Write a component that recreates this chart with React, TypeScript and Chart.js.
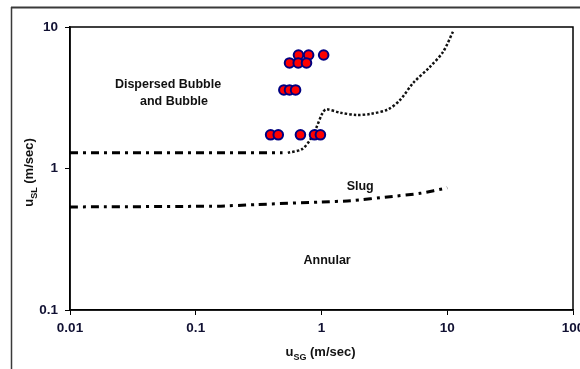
import React, { useEffect, useRef } from 'react';
import { Chart, registerables } from 'chart.js';

Chart.register(...registerables);

// Axis ticks
const xTicks = [0.01, 0.1, 1, 10, 100];
const yTicks = [0.1, 1, 10];

// Observed flow points (u_SG, u_SL)
const pointsX = [0.656, 0.79, 1.04, 0.557, 0.653, 0.76, 0.502, 0.557, 0.622, 0.394, 0.453, 0.68, 0.88, 0.98];
const pointsY = [6.34, 6.34, 6.34, 5.57, 5.57, 5.57, 3.59, 3.59, 3.59, 1.73, 1.73, 1.73, 1.73, 1.73];

// Bubble / slug boundary (dash-dot part)
const upperX = [0.01, 0.49];
const upperY = [1.29, 1.29];

// Transition boundary (dotted)
const transX = [0.54, 0.70, 0.81, 0.906, 1.02, 1.09, 1.41, 1.91, 2.44, 3.39, 4.22, 5.35, 7.31, 9.27, 11.1];
const transY = [1.29, 1.37, 1.59, 1.93, 2.47, 2.62, 2.48, 2.39, 2.43, 2.62, 3.05, 4.02, 5.24, 6.68, 9.26];

// Slug / annular boundary (dash-dot)
const lowerX = [0.01, 0.15, 0.3, 1, 1.7, 3.5, 6.1, 10];
const lowerY = [0.535, 0.542, 0.556, 0.58, 0.592, 0.632, 0.668, 0.73];

// Region labels
const regionText = ['Dispersed Bubble', 'and Bubble', 'Slug', 'Annular'];
const regionX = [0.0602, 0.0671, 2.03, 1.108];
const regionY = [3.89, 2.95, 0.74, 0.222];

const FONT = '"Liberation Sans", Arial, sans-serif';

const toXY = (xs: number[], ys: number[]) => xs.map((x, i) => ({ x, y: ys[i] }));

const decorPlugin = {
  id: 'decor',
  afterDraw(chart: any) {
    const { ctx, chartArea, scales } = chart;
    ctx.save();
    // outer frame
    ctx.strokeStyle = '#3a3a3a';
    ctx.lineWidth = 2;
    ctx.beginPath();
    ctx.moveTo(11, 7.5);
    ctx.lineTo(600, 7.5);
    ctx.stroke();
    ctx.lineWidth = 1.5;
    ctx.beginPath();
    ctx.moveTo(11.5, 7);
    ctx.lineTo(11.5, 369);
    ctx.stroke();
    // plot box
    ctx.strokeStyle = '#000';
    ctx.lineWidth = 1.5;
    ctx.strokeRect(chartArea.left, chartArea.top, chartArea.right - chartArea.left, chartArea.bottom - chartArea.top);

    // region labels
    ctx.fillStyle = '#111';
    ctx.font = `bold 12.5px ${FONT}`;
    ctx.textAlign = 'center';
    ctx.textBaseline = 'middle';
    regionText.forEach((t, i) => {
      ctx.fillText(t, scales.x.getPixelForValue(regionX[i]), scales.y.getPixelForValue(regionY[i]));
    });

    // axis titles with subscripts
    const drawTitle = (main: string, sub: string, rest: string) => {
      ctx.font = `bold 13px ${FONT}`;
      const w1 = ctx.measureText(main).width;
      ctx.font = `bold 9px ${FONT}`;
      const w2 = ctx.measureText(sub).width;
      ctx.font = `bold 13px ${FONT}`;
      const w3 = ctx.measureText(rest).width;
      const total = w1 + w2 + w3;
      let x = -total / 2;
      ctx.textAlign = 'left';
      ctx.textBaseline = 'alphabetic';
      ctx.font = `bold 13px ${FONT}`;
      ctx.fillText(main, x, 0);
      x += w1;
      ctx.font = `bold 9px ${FONT}`;
      ctx.fillText(sub, x, 4);
      x += w2;
      ctx.font = `bold 13px ${FONT}`;
      ctx.fillText(rest, x, 0);
    };
    ctx.fillStyle = '#111';
    ctx.save();
    ctx.translate((chartArea.left + chartArea.right) / 2 - 1, 356);
    drawTitle('u', 'SG', ' (m/sec)');
    ctx.restore();
    ctx.save();
    ctx.translate(33, (chartArea.top + chartArea.bottom) / 2 + 4);
    ctx.rotate(-Math.PI / 2);
    drawTitle('u', 'SL', ' (m/sec)');
    ctx.restore();
    ctx.restore();
  },
};

export default function App() {
  const ref = useRef<HTMLCanvasElement | null>(null);
  useEffect(() => {
    if (!ref.current) return;
    const chart = new Chart(ref.current, {
      type: 'scatter',
      data: {
        datasets: [
          {
            data: toXY(pointsX, pointsY),
            pointRadius: 4.8,
            pointBorderWidth: 2,
            backgroundColor: '#ff0000',
            borderColor: '#000080',
            showLine: false,
            order: 0,
          },
          {
            data: toXY(upperX, upperY),
            showLine: true,
            pointRadius: 0,
            borderColor: '#000',
            borderWidth: 3,
            borderDash: [8, 5, 3, 5],
            order: 1,
          },
          {
            data: toXY(transX, transY),
            showLine: true,
            pointRadius: 0,
            borderColor: '#111',
            borderWidth: 2.5,
            borderDash: [2.5, 2],
            tension: 0.3,
            order: 1,
          },
          {
            data: toXY(lowerX, lowerY),
            showLine: true,
            pointRadius: 0,
            borderColor: '#000',
            borderWidth: 3,
            borderDash: [8, 5, 3, 5],
            tension: 0.2,
            order: 1,
          },
        ],
      },
      options: {
        animation: false,
        responsive: false,
        devicePixelRatio: 1,
        layout: { padding: { top: 27, right: 27, left: 0, bottom: 0 } },
        plugins: { legend: { display: false }, tooltip: { enabled: false } },
        scales: {
          x: {
            type: 'logarithmic',
            min: 0.01,
            max: 100,
            afterBuildTicks: (s: any) => {
              s.ticks = xTicks.map((v) => ({ value: v }));
            },
            afterFit: (s: any) => {
              s.height = 59;
            },
            grid: { drawOnChartArea: false, drawTicks: true, tickLength: 5, color: '#000' },
            border: { display: true, color: '#000', width: 1.5 },
            ticks: {
              padding: 5,
              color: '#111133',
              font: { family: FONT, size: 13.5, weight: 'bold' },
              maxRotation: 0,
              callback: (v: any) => String(v),
            },
          },
          y: {
            type: 'logarithmic',
            min: 0.1,
            max: 10,
            afterBuildTicks: (s: any) => {
              s.ticks = yTicks.map((v) => ({ value: v }));
            },
            afterFit: (s: any) => {
              s.width = 70;
            },
            grid: { drawOnChartArea: false, drawTicks: true, tickLength: 5, color: '#000' },
            border: { display: true, color: '#000', width: 1.5 },
            ticks: {
              padding: 7,
              color: '#111133',
              font: { family: FONT, size: 13.5, weight: 'bold' },
              callback: (v: any) => String(v),
            },
          },
        },
      } as any,
      plugins: [decorPlugin],
    });
    return () => chart.destroy();
  }, []);
  return (
    <div style={{ position: 'fixed', left: 0, top: 0, width: 580, height: 369, overflow: 'hidden', background: '#fff' }}>
      <canvas ref={ref} width={600} height={369} style={{ width: 600, height: 369, display: 'block' }} />
    </div>
  );
}
